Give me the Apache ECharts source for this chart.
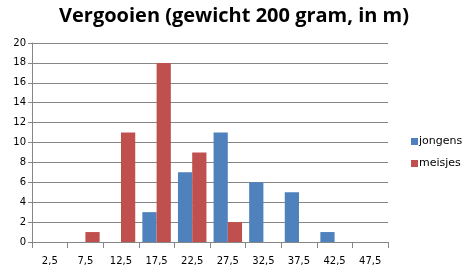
<!DOCTYPE html>
<html><head><meta charset="utf-8">
<script src="https://cdn.jsdelivr.net/npm/echarts@6/dist/echarts.min.js"></script>
<style>html,body{margin:0;padding:0;background:#fff}#c{width:468px;height:269px}</style>
</head><body><div id="c"></div>
<script>
const categories = ['2,5','7,5','12,5','17,5','22,5','27,5','32,5','37,5','42,5','47,5'];
const jongens = [0,0,0,3,7,11,6,5,1,0];
const meisjes = [0,1,11,18,9,2,0,0,0,0];
const chart = echarts.init(document.getElementById('c'), null, {renderer:'canvas'});
chart.setOption({
  animation:false,
  title:{text:'Vergooien (gewicht 200 gram, in m)', left:'center', top:1,
    textStyle:{fontFamily:'Open Sans', fontWeight:'bold', fontSize:20, color:'#000'}},
  legend:{orient:'vertical', left:406, top:131, itemWidth:7, itemHeight:7, itemGap:11,
    icon:'rect', textStyle:{fontFamily:'DejaVu Sans', fontSize:11, color:'#000', padding:[0,0,0,-4]},
    data:['jongens','meisjes']},
  grid:{left:32, right:80, top:43, bottom:27, containLabel:false},
  xAxis:{type:'category', data:categories,
    axisLine:{lineStyle:{color:'#868686'}},
    axisTick:{show:true, length:6, lineStyle:{color:'#868686'}},
    axisLabel:{fontFamily:'DejaVu Sans', fontSize:10, color:'#000', margin:14}},
  yAxis:{type:'value', min:0, max:20, interval:2,
    axisLine:{show:true, lineStyle:{color:'#868686'}},
    axisTick:{show:true, length:4, lineStyle:{color:'#868686'}},
    axisLabel:{fontFamily:'DejaVu Sans', fontSize:10, color:'#000', margin:6},
    splitLine:{lineStyle:{color:'#868686'}}},
  series:[
    {name:'jongens', type:'bar', data:jongens, barGap:'0%', barCategoryGap:'20%', itemStyle:{color:'#4F81BD'}},
    {name:'meisjes', type:'bar', data:meisjes, itemStyle:{color:'#C0504D'}}
  ]
});
</script></body></html>
